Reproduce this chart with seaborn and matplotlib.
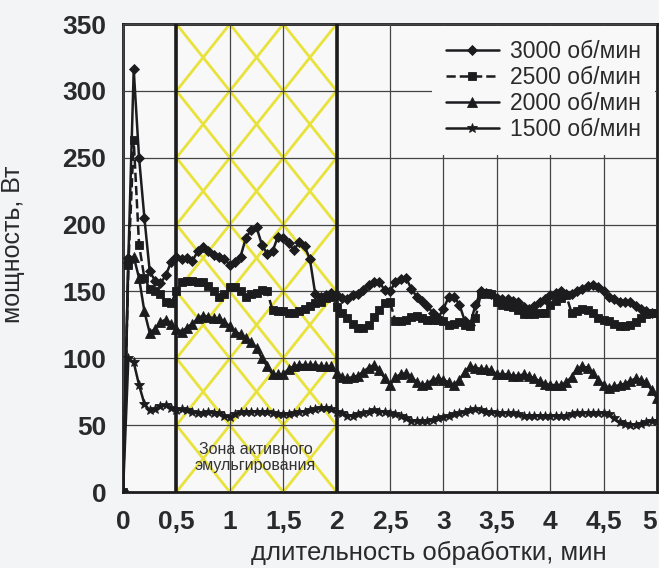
import numpy as np
import pandas as pd
import matplotlib
matplotlib.use("Agg")
import matplotlib.pyplot as plt
import seaborn as sns

# time grid (min), one sample every 0.05 min
TIME = np.round(np.arange(0, 5.0001, 0.05), 2)

P_3000 = [0, 175, 316, 250, 205, 165, 158, 156, 162, 172,
          176, 174, 175, 173, 180, 183, 180, 177, 176, 174,
          170, 172, 176, 190, 196, 198, 185, 178, 180, 191,
          190, 186, 181, 187, 184, 174, 148, 146, 147, 149,
          147, 145, 144, 147, 148, 151, 155, 157, 157, 151,
          150, 157, 159, 160, 152, 146, 143, 139, 134, 130,
          137, 146, 146, 140, 128, 125, 140, 150, 149, 148,
          145, 144, 144, 143, 142, 138, 137, 139, 142, 144,
          147, 149, 150, 148, 148, 150, 152, 154, 155, 153,
          150, 146, 144, 142, 142, 142, 139, 137, 135, 134, 134]

P_2500 = [0, 170, 263, 185, 160, 152, 150, 148, 142, 141,
          150, 157, 158, 158, 157, 157, 154, 150, 146, 148,
          153, 153, 150, 146, 148, 149, 151, 150, 136, 135,
          135, 134, 134, 135, 137, 139, 141, 142, 145, 146,
          138, 134, 130, 126, 123, 123, 125, 131, 136, 141,
          142, 128, 128, 129, 131, 132, 130, 129, 129, 129,
          128, 125, 126, 127, 125, 124, 130, 148, 149, 148,
          142, 140, 139, 138, 136, 133, 133, 133, 134, 134,
          140, 143, 145, 147, 134, 135, 137, 136, 134, 130,
          129, 128, 126, 124, 124, 125, 127, 130, 133, 134, 134]

P_2000 = [0, 175, 176, 160, 135, 119, 122, 127, 129, 126,
          122, 120, 123, 126, 130, 132, 131, 130, 130, 127,
          124, 120, 118, 115, 112, 108, 100, 94, 88, 88,
          88, 92, 94, 95, 95, 95, 95, 94, 94, 94,
          89, 86, 85, 86, 87, 90, 93, 95, 91, 85,
          80, 86, 88, 89, 86, 82, 80, 81, 84, 85,
          84, 82, 80, 84, 90, 94, 93, 92, 92, 91,
          88, 88, 88, 87, 87, 88, 87, 85, 83, 81,
          80, 80, 80, 82, 86, 92, 94, 93, 89, 84,
          80, 78, 79, 80, 81, 83, 85, 84, 82, 76, 70]

P_1500 = [0, 100, 97, 80, 66, 61, 62, 64, 65, 63,
          61, 62, 61, 60, 59, 59, 60, 59, 59, 57,
          56, 58, 60, 60, 60, 60, 60, 60, 59, 58,
          58, 58, 59, 60, 60, 61, 62, 63, 63, 62,
          60, 59, 57, 57, 58, 59, 60, 61, 60, 60,
          59, 58, 57, 55, 53, 53, 53, 53, 54, 55,
          56, 57, 58, 59, 60, 61, 62, 61, 60, 60,
          59, 59, 59, 59, 58, 57, 57, 57, 57, 57,
          57, 57, 57, 57, 58, 59, 59, 59, 59, 59,
          59, 58, 55, 52, 51, 50, 50, 51, 52, 53, 53]

SERIES = ["3000 об/мин", "2500 об/мин", "2000 об/мин", "1500 об/мин"]
MARKERS = ["D", "s", "^", "*"]
LINESTYLES = ["-", "--", "-", "-"]
MARKER_SIZES = [5, 5.5, 6.5, 7]

X_TICKS = [0, 0.5, 1, 1.5, 2, 2.5, 3, 3.5, 4, 4.5, 5]
X_TICK_LABELS = ["0", "0,5", "1", "1,5", "2", "2,5", "3", "3,5", "4", "4,5", "5"]
Y_TICKS = [0, 50, 100, 150, 200, 250, 300, 350]

ZONE_START, ZONE_END = 0.5, 2.0
ZONE_TEXT = "Зона активного\nэмульгирования"

INK = "#1c1c1e"
BG = "#f3f4f6"
YELLOW = "#e8e23a"


def main():
    sns.set_style("white")
    plt.rcParams["font.family"] = ["Liberation Sans", "DejaVu Sans"]

    fig = plt.figure(figsize=(6.59, 5.68), dpi=100, facecolor=BG)
    ax = fig.add_axes([0.1867, 0.1338, 0.8103, 0.8239])
    ax.set_facecolor("#f8f8f9")

    # yellow cross-hatch over the active emulsification zone
    xs = [x for x in X_TICKS if ZONE_START <= x <= ZONE_END]
    for x0, x1 in zip(xs[:-1], xs[1:]):
        for y0, y1 in zip(Y_TICKS[:-1], Y_TICKS[1:]):
            ax.plot([x0, x1], [y0, y1], color=YELLOW, lw=2, zorder=1)
            ax.plot([x0, x1], [y1, y0], color=YELLOW, lw=2, zorder=1)

    df = pd.DataFrame({"t": TIME})
    for name, vals in zip(SERIES, [P_3000, P_2500, P_2000, P_1500]):
        df[name] = vals

    for name, mk, ls, ms in zip(SERIES, MARKERS, LINESTYLES, MARKER_SIZES):
        sns.lineplot(data=df, x="t", y=name, ax=ax, color=INK, lw=1.8,
                     linestyle=ls, marker=mk, markersize=ms, markeredgewidth=0.6,
                     markeredgecolor=INK, label=name, errorbar=None, sort=False,
                     zorder=4)

    for x in (ZONE_START, ZONE_END):
        ax.axvline(x, color=INK, lw=2.6, zorder=3)

    ax.text((ZONE_START + ZONE_END) / 2 - 0.01, 26, ZONE_TEXT, ha="center",
            va="center", fontsize=11.5, color="#333333", linespacing=1.05,
            zorder=5)

    ax.set_xlim(0, 5)
    ax.set_ylim(0, 350)
    ax.set_xticks(X_TICKS)
    ax.set_xticklabels(X_TICK_LABELS)
    ax.set_yticks(Y_TICKS)
    ax.set_xticks(np.arange(0, 5.0001, 0.1), minor=True)
    ax.set_yticks(np.arange(0, 350.1, 10), minor=True)
    ax.tick_params(axis="both", which="major", length=0, labelsize=19,
                   colors="#2a2a2a")
    ax.tick_params(axis="x", which="major", pad=13)
    ax.tick_params(axis="y", which="major", pad=12)
    ax.tick_params(axis="both", which="minor", direction="in", length=4,
                   width=0.8, color="#555555")
    for lab in ax.get_xticklabels() + ax.get_yticklabels():
        lab.set_fontweight("bold")
    # last x label sits flush against the right edge, as in the original
    ax.get_xticklabels()[-1].set_horizontalalignment("right")

    ax.grid(True, which="major", color="#444444", lw=0.9, zorder=2)
    ax.set_axisbelow(False)
    for sp in ax.spines.values():
        sp.set_color(INK)
        sp.set_linewidth(2)

    ax.set_xlabel("длительность обработки, мин", fontsize=18.5, color="#2a2a2a")
    ax.set_ylabel("мощность, Вт", fontsize=18, color="#2a2a2a")
    ax.xaxis.set_label_coords(0.573, -0.104)
    ax.yaxis.set_label_coords(-0.183, 0.53)

    leg = ax.legend(loc="upper right", fontsize=16.5, handlelength=2.3,
                    handletextpad=0.5, labelspacing=0.13, borderpad=0.6,
                    borderaxespad=0.1, frameon=True, fancybox=False)
    leg.get_frame().set_facecolor("#f8f8f9")
    leg.get_frame().set_edgecolor("none")
    leg.get_frame().set_alpha(1)
    for txt in leg.get_texts():
        txt.set_color("#2a2a2a")
    leg.set_zorder(6)

    fig.savefig("out.png", dpi=100, facecolor=BG)


if __name__ == "__main__":
    main()
